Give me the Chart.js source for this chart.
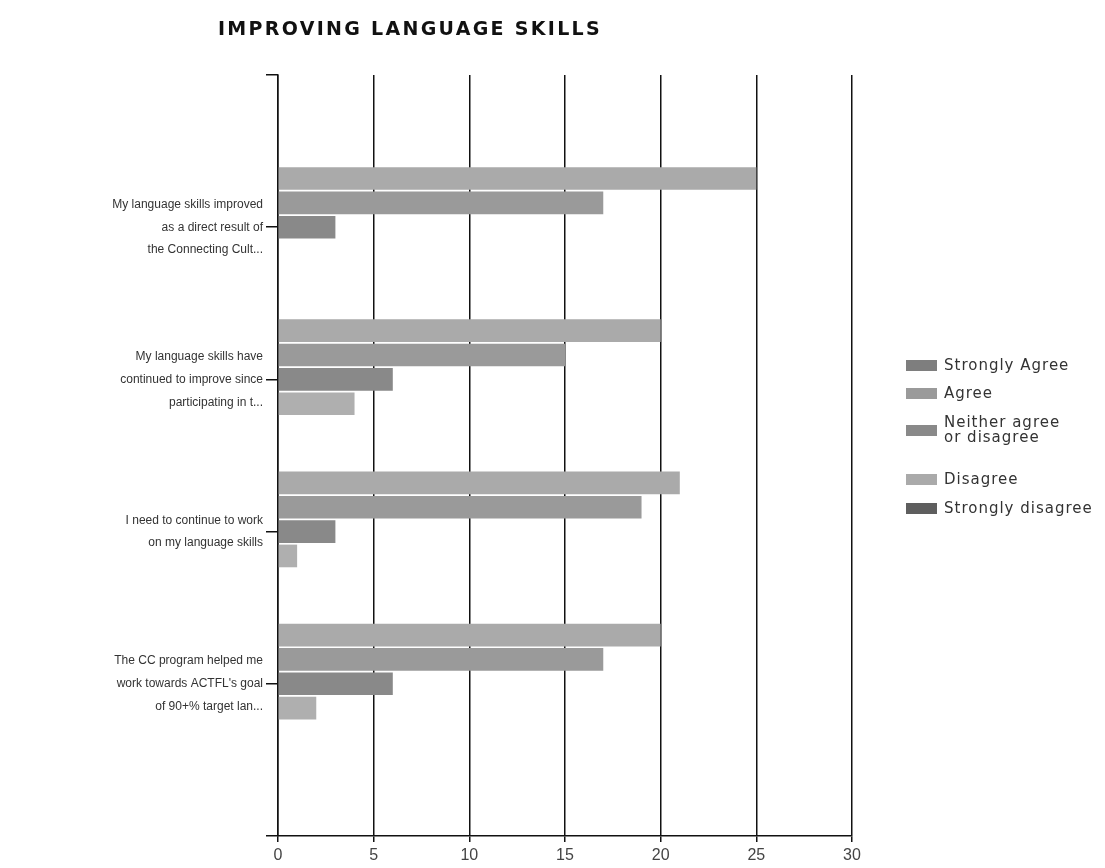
<!DOCTYPE html>
<html>
<head>
<meta charset="utf-8">
<script src="https://cdn.jsdelivr.net/npm/chart.js@4/dist/chart.umd.min.js"></script>
<style>
  html, body { margin: 0; padding: 0; background: #fff; }
  #wrap { position: relative; width: 1105px; height: 868px; }
  #title {
    position: absolute; left: 218px; top: 17px;
    font: bold 19px "DejaVu Sans", Arial, sans-serif;
    letter-spacing: 2.3px; color: #111; white-space: nowrap;
  }
  #legend {
    position: absolute; left: 906px; top: 0;
    font: 15px "DejaVu Sans", Arial, sans-serif; color: #333;
    letter-spacing: 1px;
  }
  .item { position: absolute; display: flex; align-items: center; white-space: nowrap; }
  .swatch { width: 31px; height: 11px; margin-right: 7px; flex: none; }
  .txt { line-height: 15px; }
</style>
</head>
<body>
<div id="wrap">
  <div id="title">IMPROVING LANGUAGE SKILLS</div>
  <canvas id="chart" width="1105" height="868"></canvas>
  <div id="legend"></div>
</div>
<script>
const questions = [
  ["My language skills improved", "as a direct result of", "the Connecting Cult..."],
  ["My language skills have", "continued to improve since", "participating in t..."],
  ["I need to continue to work", "on my language skills"],
  ["The CC program helped me", "work towards ACTFL's goal", "of 90+% target lan..."]
];
const seriesNames = ["Strongly Agree", "Agree", "Neither agree or disagree", "Disagree", "Strongly disagree"];
const stronglyAgree = [25, 20, 21, 20];
const agree = [17, 15, 19, 17];
const neither = [3, 6, 3, 6];
const disagree = [0, 4, 1, 2];
const stronglyDisagree = [0, 0, 0, 0];
const xTicks = [0, 5, 10, 15, 20, 25, 30];

const seriesValues = [stronglyAgree, agree, neither, disagree, stronglyDisagree];
const colors = ["#aaaaaa", "#9a9a9a", "#898989", "#afafaf", "#6e6e6e"];
const swatchColors = ["#7e7e7e", "#9a9a9a", "#898989", "#aaaaaa", "#5e5e5e"];

// questions sit at positions 1..4 of a 0..5 axis, as in the original
const datasets = seriesValues.map((vals, i) => ({
  label: seriesNames[i],
  data: vals.map((v, j) => ({ x: v, y: j + 1 })),
  backgroundColor: colors[i],
  borderWidth: 0,
  barPercentage: 0.93,
  categoryPercentage: 0.8
}));

new Chart(document.getElementById("chart"), {
  type: "bar",
  data: { datasets },
  options: {
    indexAxis: "y",
    responsive: false,
    animation: false,
    layout: { padding: { top: 75, right: 253, left: 0, bottom: 0 } },
    plugins: { legend: { display: false }, tooltip: { enabled: false } },
    scales: {
      x: {
        type: "linear",
        min: xTicks[0],
        max: xTicks[xTicks.length - 1],
        afterBuildTicks: s => { s.ticks = xTicks.map(v => ({ value: v })); },
        afterFit: s => { s.height = 32; },
        grid: { color: "#111", lineWidth: 1.5, tickLength: 6 },
        border: { color: "#111", width: 1.5 },
        ticks: { color: "#444", font: { family: "Liberation Sans", size: 16 }, padding: 4 }
      },
      y: {
        type: "linear",
        offset: false,
        reverse: true,
        min: 0,
        max: questions.length + 1,
        afterBuildTicks: s => {
          s.ticks = [];
          for (let v = 0; v <= questions.length + 1; v++) s.ticks.push({ value: v });
        },
        afterFit: s => { s.width = 278; },
        grid: { offset: false, drawOnChartArea: false, color: "#111", lineWidth: 1.5, tickLength: 12 },
        border: { color: "#111", width: 1.5 },
        ticks: {
          color: "#333",
          font: { family: "Liberation Sans", size: 12, lineHeight: 1.9 },
          padding: 3,
          callback: v => questions[v - 1] || ""
        }
      }
    }
  }
});

const legend = document.getElementById("legend");
const legendLines = [["Strongly Agree"], ["Agree"], ["Neither agree", "or disagree"], ["Disagree"], ["Strongly disagree"]];
const legendTops = [358, 386, 415, 472, 501];
seriesNames.forEach((name, i) => {
  const row = document.createElement("div");
  row.className = "item";
  row.style.top = legendTops[i] + "px";
  row.innerHTML = `<span class="swatch" style="background:${swatchColors[i]}"></span>` +
    `<span class="txt">${legendLines[i].join("<br>")}</span>`;
  legend.appendChild(row);
});
</script>
</body>
</html>
